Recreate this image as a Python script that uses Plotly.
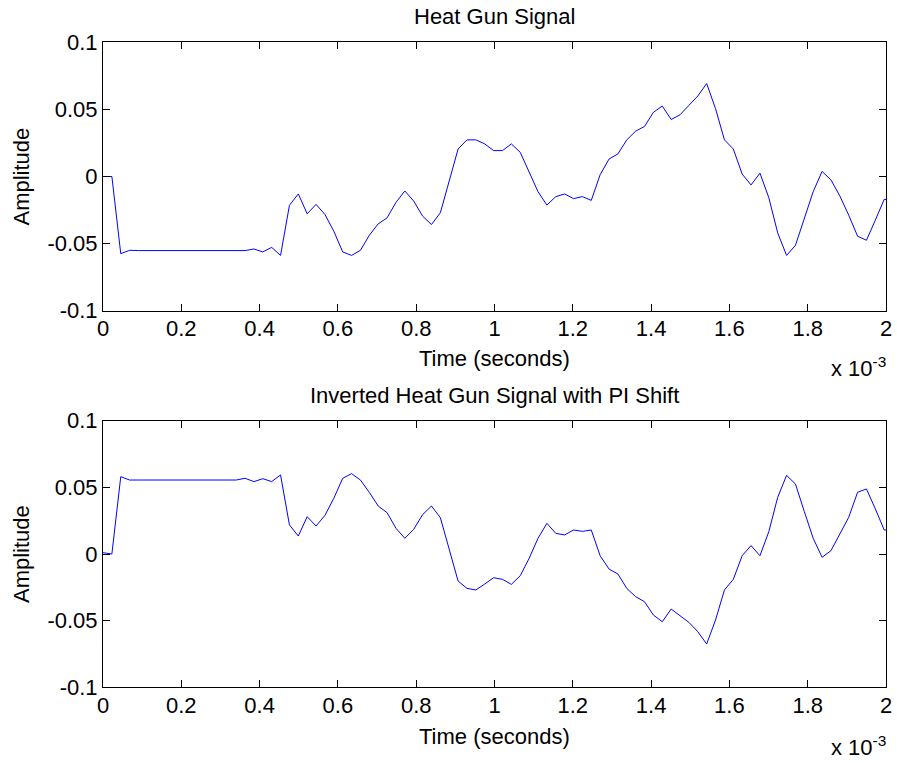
import plotly.graph_objects as go

# Sample rate of the recording and sample index -> time (s)
fs = 44100
n_samples = 90
time_s = [n / fs for n in range(n_samples)]

heat_gun = [
    0.0, 0.0, -0.0575, -0.055,
    -0.0552, -0.0552, -0.0552, -0.0552, -0.0552, -0.0552, -0.0552,
    -0.0552, -0.0552, -0.0552, -0.0552, -0.0552, -0.0552,
    -0.054, -0.0562, -0.0528, -0.0588, -0.0215, -0.013, -0.0278, -0.0208,
    -0.0283, -0.0408, -0.0562, -0.0588, -0.055, -0.0438, -0.0353, -0.0308,
    -0.0193, -0.0108, -0.0183, -0.0295, -0.0358, -0.027, -0.0033, 0.0205,
    0.0273, 0.0273, 0.0243, 0.0193, 0.0193, 0.0243, 0.018, 0.003,
    -0.0113, -0.0213, -0.015, -0.013, -0.0165, -0.015, -0.0178, 0.0013,
    0.013, 0.0168, 0.0273, 0.0338, 0.0373, 0.0478, 0.0525, 0.0425,
    0.046, 0.053, 0.06, 0.0693, 0.0505, 0.0273, 0.0205, 0.0018,
    -0.0063, 0.0025, -0.0158, -0.042, -0.0588, -0.0513, -0.0308, -0.0113,
    0.0038, -0.0025, -0.0145, -0.0288, -0.0445, -0.0475, -0.0325, -0.017,
    -0.018,
]

inverted = [
    0.001, 0.0, 0.058, 0.0555,
    0.0555, 0.0555, 0.0555, 0.0555, 0.0555, 0.0555, 0.0555,
    0.0555, 0.0555, 0.0555, 0.0555, 0.0555,
    0.0568, 0.0543, 0.0565, 0.0543, 0.0593, 0.0218, 0.0135, 0.028, 0.021,
    0.029, 0.0418, 0.0568, 0.0603, 0.0555, 0.0462, 0.036, 0.031,
    0.0193, 0.0118, 0.0185, 0.0295, 0.036, 0.0273, 0.0035, -0.0203,
    -0.0258, -0.027, -0.0225, -0.0178, -0.019, -0.0228, -0.0163, -0.0033,
    0.0118, 0.023, 0.0155, 0.0143, 0.018, 0.017, 0.018, -0.0013,
    -0.0113, -0.015, -0.0258, -0.032, -0.0358, -0.0458, -0.0508, -0.0413,
    -0.0463, -0.0513, -0.0583, -0.0675, -0.0495, -0.027, -0.019, -0.0013,
    0.0063, -0.0013, 0.0168, 0.0425, 0.059, 0.0525, 0.0318, 0.0118,
    -0.0025, 0.0025, 0.015, 0.0275, 0.0463, 0.0488, 0.0338, 0.018,
    0.018,
]

x_tick_vals = [i * 0.0002 for i in range(11)]
x_tick_text = ["0", "0.2", "0.4", "0.6", "0.8", "1", "1.2", "1.4", "1.6", "1.8", "2"]
y_tick_vals = [-0.1, -0.05, 0, 0.05, 0.1]
y_tick_text = ["-0.1", "-0.05", "0", "0.05", "0.1"]

W, H = 897, 763
FONT = "Liberation Sans, Arial, Helvetica, sans-serif"
FS = 22


def px_x(p):
    return p / W


def px_y(p):
    return 1 - p / H


fig = go.Figure()
fig.add_trace(go.Scatter(x=time_s, y=heat_gun, mode="lines",
                         line=dict(color="#0000ff", width=1),
                         xaxis="x", yaxis="y", showlegend=False))
fig.add_trace(go.Scatter(x=time_s, y=inverted, mode="lines",
                         line=dict(color="#0000ff", width=1),
                         xaxis="x2", yaxis="y2", showlegend=False))

common_axis = dict(
    showline=True, linecolor="black", linewidth=1, mirror="ticks",
    ticks="inside", ticklen=7, tickwidth=1, tickcolor="black",
    showgrid=False, zeroline=False, fixedrange=True, automargin=False,
    tickfont=dict(family=FONT, size=FS, color="black"),
)

x_dom = [px_x(103), px_x(886)]
top_dom = [px_y(310.7), px_y(42.3)]
bot_dom = [px_y(687.3), px_y(420.7)]

fig.update_layout(
    width=W, height=H,
    margin=dict(l=0, r=0, t=0, b=0, pad=0),
    paper_bgcolor="white", plot_bgcolor="white",
    font=dict(family=FONT, size=FS, color="black"),
    xaxis=dict(domain=x_dom, range=[0, 0.002], anchor="y",
               tickvals=x_tick_vals, ticktext=x_tick_text,
               ticklabelstandoff=-2, **common_axis),
    yaxis=dict(domain=top_dom, range=[-0.1, 0.1], anchor="x",
               tickvals=y_tick_vals, ticktext=y_tick_text,
               ticklabelstandoff=0, **common_axis),
    xaxis2=dict(domain=x_dom, range=[0, 0.002], anchor="y2",
                tickvals=x_tick_vals, ticktext=x_tick_text,
                ticklabelstandoff=-2, **common_axis),
    yaxis2=dict(domain=bot_dom, range=[-0.1, 0.1], anchor="x2",
                tickvals=y_tick_vals, ticktext=y_tick_text,
                ticklabelstandoff=0, **common_axis),
)


def label(text, x, y, angle=0, xanchor="center", size=FS):
    fig.add_annotation(text=text, x=px_x(x), y=px_y(y), xref="paper", yref="paper",
                       showarrow=False, xanchor=xanchor, yanchor="middle",
                       textangle=angle, font=dict(family=FONT, size=size, color="black"))


cx = (103 + 886) / 2
label("Heat Gun Signal", cx, 17)
label("Time (seconds)", cx, 358)
label("Amplitude", 21, 176.5, angle=-90)
label("x 10<sup>-3</sup>", 888, 367, xanchor="right")

label("Inverted Heat Gun Signal with PI Shift", cx, 395)
label("Time (seconds)", cx, 736)
label("Amplitude", 21, 554, angle=-90)
label("x 10<sup>-3</sup>", 888, 746, xanchor="right")

fig.write_html("out.html")
